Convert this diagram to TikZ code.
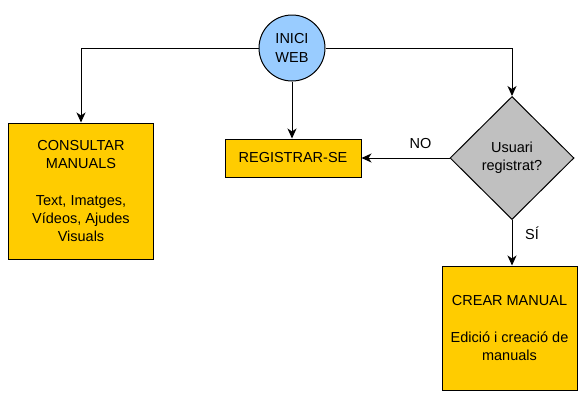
\documentclass[tikz,border=0pt]{standalone}
\usepackage{fontspec}
\setmainfont{Liberation Sans}
\usetikzlibrary{shapes.geometric,arrows.meta}
\definecolor{boxgold}{HTML}{FFCC00}
\definecolor{startblue}{HTML}{99CCFF}
\definecolor{decgray}{HTML}{C0C0C0}
\begin{document}
\begin{tikzpicture}[x=1bp,y=-1bp,
  every node/.style={font=\fontsize{14.5bp}{18.3bp}\selectfont, align=center},
  procbox/.style={draw=black, line width=1bp, fill=boxgold, rectangle, inner sep=0pt},
  startc/.style={draw=black, line width=1bp, fill=startblue, circle, inner sep=0pt, minimum size=66bp},
  decis/.style={draw=black, line width=1bp, fill=decgray, diamond, inner sep=0pt, minimum width=124bp, minimum height=123bp},
  arr/.style={draw=black, line width=1bp, -{Stealth[length=10bp,width=9bp,inset=3bp]}},
  lbl/.style={font=\fontsize{14.5bp}{18.3bp}\selectfont, inner sep=0pt}
]
\useasboundingbox (0,0) rectangle (587,406);
\node[startc] (inici) at (292,48) {INICI\\WEB};
\node[procbox, minimum width=144bp, minimum height=136bp] (consult) at (81,191)
  {CONSULTAR\\MANUALS\\[18.3bp]Text, Imatges,\\Vídeos, Ajudes\\Visuals};
\node[procbox, minimum width=136bp, minimum height=38bp] (reg) at (293,158) {REGISTRAR-SE};
\node[decis] (diam) at (512,158) {Usuari\\registrat?};
\node[procbox, minimum width=135bp, minimum height=124bp] (crear) at (509.5,328)
  {CREAR MANUAL\\[18.3bp]Edició i creació de\\manuals};

\draw[arr] (inici.west) -| (consult.north);
\draw[arr] (inici.east) -| (diam.north);
\draw[arr] (inici.south) -- (inici.south |- reg.north);
\draw[arr] (diam.west) -- node[lbl, pos=0.33, yshift=14bp] {NO} (reg.east);
\draw[arr] (diam.south) -- node[lbl, pos=0.3, xshift=20bp] {SÍ} (diam.south |- crear.north);
\end{tikzpicture}
\end{document}
